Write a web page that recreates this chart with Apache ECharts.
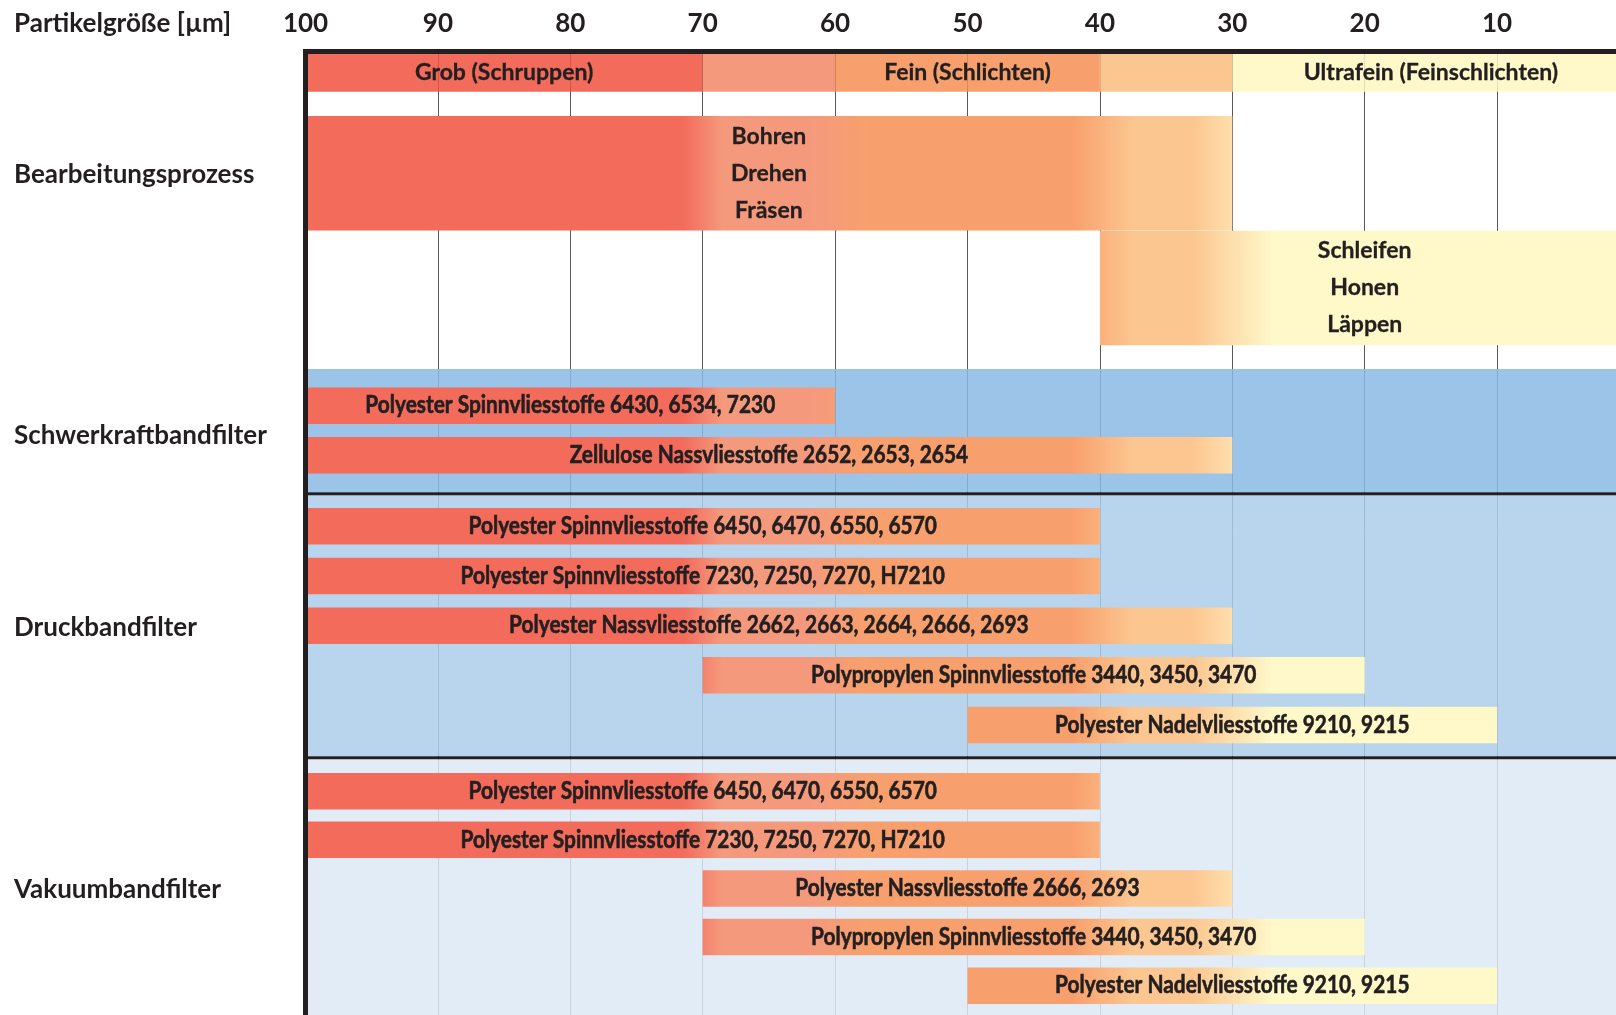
<!DOCTYPE html>
<html>
<head>
<meta charset="utf-8">
<script src="https://cdn.jsdelivr.net/npm/echarts@6/dist/echarts.min.js"></script>
<style>
  html, body { margin: 0; padding: 0; background: #fff; }
  #chart { width: 1616px; height: 1015px; }
</style>
</head>
<body>
<div id="chart"></div>
<script>
// x axis (Partikelgröße, µm), drawn from 100 on the left
var xTicks = [100, 90, 80, 70, 60, 50, 40, 30, 20, 10];

// Header band: Bearbeitungsqualität
var gradeNames = ['Grob (Schruppen)', '', 'Fein (Schlichten)', '', 'Ultrafein (Feinschlichten)'];
var gradeFrom = [100, 70, 60, 40, 30];
var gradeTo = [70, 60, 40, 30, 0];

// Bearbeitungsprozess
var processNames = ['Bohren\nDrehen\nFräsen', 'Schleifen\nHonen\nLäppen'];
var processFrom = [100, 40];
var processTo = [30, 0];

var groupNames = ['Bearbeitungsprozess', 'Schwerkraftbandfilter', 'Druckbandfilter', 'Vakuumbandfilter'];

var schwerkraftNames = [
    'Polyester Spinnvliesstoffe 6430, 6534, 7230',
    'Zellulose Nassvliesstoffe 2652, 2653, 2654'
];
var schwerkraftFrom = [100, 100];
var schwerkraftTo = [60, 30];

var druckNames = [
    'Polyester Spinnvliesstoffe 6450, 6470, 6550, 6570',
    'Polyester Spinnvliesstoffe 7230, 7250, 7270, H7210',
    'Polyester Nassvliesstoffe 2662, 2663, 2664, 2666, 2693',
    'Polypropylen Spinnvliesstoffe 3440, 3450, 3470',
    'Polyester Nadelvliesstoffe 9210, 9215'
];
var druckFrom = [100, 100, 100, 70, 50];
var druckTo = [40, 40, 30, 20, 10];

var vakuumNames = [
    'Polyester Spinnvliesstoffe 6450, 6470, 6550, 6570',
    'Polyester Spinnvliesstoffe 7230, 7250, 7270, H7210',
    'Polyester Nassvliesstoffe 2666, 2693',
    'Polypropylen Spinnvliesstoffe 3440, 3450, 3470',
    'Polyester Nadelvliesstoffe 9210, 9215'
];
var vakuumFrom = [100, 100, 70, 70, 50];
var vakuumTo = [40, 40, 30, 20, 10];

// ---- styles / layout ----
var TEXT = '#231F20';
var RED = '#F26B5B', SALMON = '#F5997D', ORANGE = '#F8A06D', PEACH = '#FCC690', YELLOW = '#FFF8C9';
var gradeColors = [RED, SALMON, ORANGE, PEACH, YELLOW];
var regionColors = ['#9CC3E8', '#B9D5EE', '#E1ECF7'];
// soft colour changes of the bars (value, colour)
var zoneStops = [[100, RED], [71.5, RED], [68.5, SALMON], [62, SALMON], [57.5, ORANGE],
    [42, ORANGE], [37.5, PEACH], [33, PEACH], [27, YELLOW], [0, YELLOW]];

var FONT_MAIN = 'Lato, "Noto Sans", sans-serif';
var BAR_FONT = 'bold 24px ' + FONT_MAIN;   // squeezed with scaleX to look condensed
var BAR_SCALE_X = 0.87;

var GRID_TOP = 51.5;
var PLOT_H = 1015 - GRID_TOP;   // y axis runs in pixel-like units
var HEADER = [2.5, 40.2];
var PROC_TOP = 64.5, PROC_H = 114.5, PROC_PITCH = 114.75;
var BAR_H = 36.5;
var groupLayout = [
    { top: 317.5, bottom: 440.8, first: 336, pitch: 49.5, labelShift: 5 },
    { top: 443.5, bottom: 704.5, first: 456.5, pitch: 49.7, labelShift: 2 },
    { top: 707.8, bottom: 963.5, first: 721.5, pitch: 48.6, labelShift: 2 }
];
var separators = [442.2, 706.2];
var BG_ALPHA = 0.85;

function under(hex) {
    // colour that looks like hex on white when drawn with BG_ALPHA (lets grid lines shine through)
    var c = echarts.color.parse(hex);
    var out = [0, 1, 2].map(function (k) {
        return Math.max(0, Math.min(255, Math.round((c[k] - 255 * (1 - BG_ALPHA)) / BG_ALPHA)));
    });
    return 'rgb(' + out.join(',') + ')';
}

function colorAt(v) {
    for (var i = 0; i < zoneStops.length - 1; i++) {
        var a = zoneStops[i], b = zoneStops[i + 1];
        if (v <= a[0] && v >= b[0]) {
            var t = a[0] === b[0] ? 0 : (a[0] - v) / (a[0] - b[0]);
            return echarts.color.lerp(t, [a[1], b[1]]);
        }
    }
    return YELLOW;
}

function gradientFor(from, to) {
    var stops = [{ offset: 0, color: colorAt(from) }];
    zoneStops.forEach(function (z) {
        if (z[0] < from && z[0] > to) {
            stops.push({ offset: (from - z[0]) / (from - to), color: z[1] });
        }
    });
    stops.push({ offset: 1, color: colorAt(to) });
    return new echarts.graphic.LinearGradient(0, 0, 1, 0, stops);
}

// background items: coloured regions and header band
var bgItems = [];
groupLayout.forEach(function (g, i) {
    bgItems.push({ from: 100, to: 0, y0: g.top, y1: g.bottom, fill: under(regionColors[i]) });
});
gradeNames.forEach(function (n, i) {
    bgItems.push({ from: gradeFrom[i], to: gradeTo[i], y0: HEADER[0], y1: HEADER[1],
        fill: under(gradeColors[i]), label: n });
});

// bars
var barItems = [];
processNames.forEach(function (n, i) {
    var y0 = PROC_TOP + i * PROC_PITCH;
    barItems.push({ from: processFrom[i], to: processTo[i], y0: y0, y1: y0 + PROC_H, label: n,
        font: 'bold 23px ' + FONT_MAIN, lineHeight: 37, scaleX: 1, weight: 0.3 });
});
[[schwerkraftNames, schwerkraftFrom, schwerkraftTo],
 [druckNames, druckFrom, druckTo],
 [vakuumNames, vakuumFrom, vakuumTo]].forEach(function (grp, gi) {
    var g = groupLayout[gi];
    grp[0].forEach(function (n, i) {
        var y0 = g.first + i * g.pitch;
        barItems.push({ from: grp[1][i], to: grp[2][i], y0: y0, y1: y0 + BAR_H, label: n,
            font: BAR_FONT, lineHeight: 26, scaleX: BAR_SCALE_X, weight: 0.6 });
    });
});

var groupLabelY = [PROC_TOP + PROC_H / 2 + 1].concat(groupLayout.map(function (g) {
    return (g.top + g.bottom) / 2 + g.labelShift;
}));

function textEl(x, y, text, font, lineHeight, scaleX, weight) {
    var style = {
        x: 0, y: 0, text: text, font: font, fill: TEXT, lineHeight: lineHeight,
        align: 'center', verticalAlign: 'middle',
        textAlign: 'center', textVerticalAlign: 'middle'
    };
    if (weight) {
        // a thin outline gives the heavier look of the original lettering
        style.stroke = TEXT;
        style.lineWidth = weight;
    }
    return { type: 'text', x: x, y: y, scaleX: scaleX || 1, style: style };
}

function rectOf(api) {
    var p0 = api.coord([api.value(0), api.value(2)]);
    var p1 = api.coord([api.value(1), api.value(3)]);
    return { x: p0[0], y: p0[1], width: p1[0] - p0[0], height: p1[1] - p0[1] };
}

var option = {
    animation: false,
    backgroundColor: '#fff',
    title: {
        text: 'Partikelgröße [µm]',
        left: 14,
        top: 11,
        padding: 0,
        textStyle: { fontFamily: FONT_MAIN, fontSize: 26, fontWeight: 'bold', color: TEXT }
    },
    grid: {
        left: 305.5,
        right: -13.5,
        top: GRID_TOP,
        bottom: 0,
        outerBoundsMode: 'none'
    },
    xAxis: {
        type: 'value',
        position: 'top',
        inverse: true,
        min: 0,
        max: 100,
        interval: 10,
        z: 0,
        axisLine: { show: true, lineStyle: { color: TEXT, width: 5, cap: 'square' } },
        axisTick: { show: false },
        axisLabel: {
            margin: 15,
            fontFamily: FONT_MAIN,
            fontSize: 26,
            fontWeight: 'bold',
            color: TEXT,
            formatter: function (v) { return xTicks.indexOf(v) >= 0 ? String(v) : ''; }
        },
        splitLine: { show: true, lineStyle: { color: '#595959', width: 1 } }
    },
    yAxis: {
        type: 'value',
        inverse: true,
        min: 0,
        max: PLOT_H,
        z: 3,
        axisLine: { show: true, onZero: false, lineStyle: { color: TEXT, width: 5, cap: 'square' } },
        axisTick: { show: false },
        axisLabel: { show: false },
        splitLine: { show: false }
    },
    series: [
        {
            name: 'Hintergrund',
            type: 'custom',
            z: 1,
            silent: true,
            data: bgItems.map(function (d) { return [d.from, d.to, d.y0, d.y1]; }),
            renderItem: function (params, api) {
                var d = bgItems[params.dataIndex];
                var r = rectOf(api);
                var children = [{ type: 'rect', shape: r, style: { fill: d.fill, opacity: BG_ALPHA } }];
                if (d.label) {
                    children.push(textEl(r.x + r.width / 2, r.y + r.height / 2, d.label,
                        'bold 23px ' + FONT_MAIN, 24, 1, 0.3));
                }
                return { type: 'group', children: children };
            }
        },
        {
            name: 'Filtermedien',
            type: 'custom',
            z: 2,
            silent: true,
            data: barItems.map(function (d) { return [d.from, d.to, d.y0, d.y1]; }),
            renderItem: function (params, api) {
                var d = barItems[params.dataIndex];
                var r = rectOf(api);
                return {
                    type: 'group',
                    children: [
                        { type: 'rect', shape: r, style: { fill: gradientFor(d.from, d.to) } },
                        textEl(r.x + r.width / 2, r.y + r.height / 2, d.label, d.font,
                            d.lineHeight, d.scaleX, d.weight)
                    ]
                };
            }
        },
        {
            name: 'Trennlinien',
            type: 'custom',
            z: 2,
            silent: true,
            data: separators.map(function (y) { return [100, 0, y, y]; }),
            renderItem: function (params, api) {
                var p0 = api.coord([api.value(0), api.value(2)]);
                var p1 = api.coord([api.value(1), api.value(3)]);
                return {
                    type: 'line',
                    shape: { x1: p0[0], y1: p0[1], x2: p1[0], y2: p1[1] },
                    style: { stroke: TEXT, lineWidth: 3 }
                };
            }
        },
        {
            name: 'Gruppen',
            type: 'custom',
            z: 2,
            silent: true,
            data: groupNames.map(function (n, i) { return [100, groupLabelY[i]]; }),
            renderItem: function (params, api) {
                var p = api.coord([api.value(0), api.value(1)]);
                return {
                    type: 'text',
                    style: {
                        x: 14, y: p[1], text: groupNames[params.dataIndex],
                        font: 'bold 26px ' + FONT_MAIN, fill: TEXT,
                        align: 'left', verticalAlign: 'middle',
                        textAlign: 'left', textVerticalAlign: 'middle'
                    }
                };
            }
        }
    ]
};

var chart = echarts.init(document.getElementById('chart'));
chart.setOption(option);
</script>
</body>
</html>
